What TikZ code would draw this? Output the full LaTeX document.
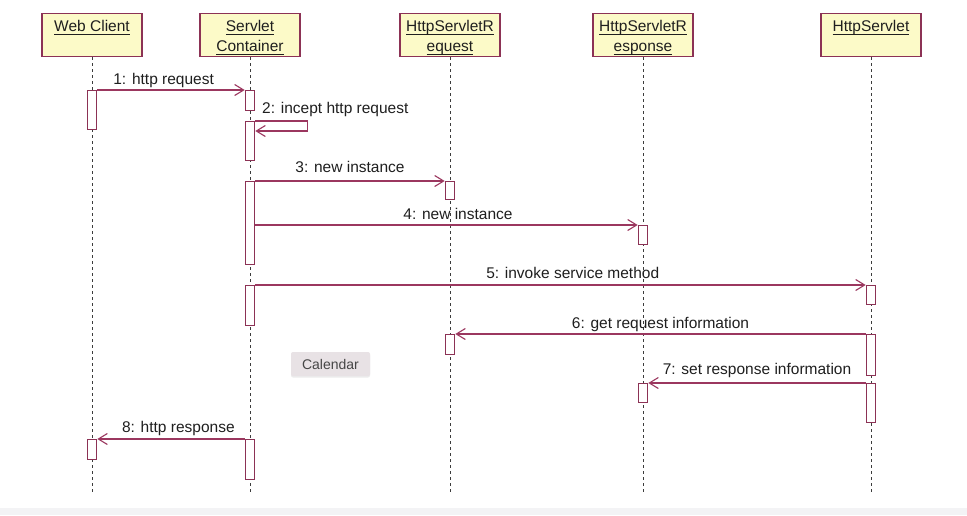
\documentclass[tikz,border=0pt]{standalone}
\usepackage{fontspec}
\setmainfont{Liberation Sans}
\usetikzlibrary{arrows.meta,shadows}
\definecolor{hdrfill}{RGB}{252,250,200}
\definecolor{maroon}{RGB}{140,50,85}
\definecolor{msgcol}{RGB}{155,55,95}
\definecolor{lifecol}{RGB}{60,60,60}
\definecolor{calfill}{RGB}{232,226,229}
\definecolor{caltext}{RGB}{70,70,70}
\definecolor{stripcol}{RGB}{243,243,245}
\newcommand\hul[1]{\setbox0\hbox{#1}\rlap{\rule[-2.6pt]{\wd0}{0.9pt}}\box0}
\tikzset{
  hdr/.style={draw=maroon, line width=1.3pt, fill=hdrfill, minimum width=100pt, minimum height=43pt, anchor=north, inner sep=0pt},
  hdrtxt/.style={anchor=north, align=center, inner sep=0pt, text=black!88, font=\fontsize{15.5}{20}\selectfont},
  life/.style={draw=lifecol, line width=1pt, dash pattern=on 3pt off 3pt},
  act/.style={draw=maroon, line width=1.1pt, fill=white, minimum width=9.5pt, anchor=north, inner sep=0pt},
  msg/.style={draw=msgcol, line width=1.1pt, -{Straight Barb[length=9pt,width=11pt,line width=1.1pt]}},
  mlab/.style={anchor=base, text=black!88, font=\fontsize{15.5}{18}\selectfont, inner sep=0pt},
}
\begin{document}
\begin{tikzpicture}[x=1pt,y=-1pt]
\useasboundingbox (0,0) rectangle (967,515);
\fill[white] (0,0) rectangle (967,515);
\fill[stripcol] (0,508) rectangle (967,515);

% header boxes
\node[hdr] (wc) at (92,13) {};
\node[hdr] (sc) at (250,13) {};
\node[hdr] (rq) at (450,13) {};
\node[hdr] (rs) at (643,13) {};
\node[hdr] (hs) at (871,13) {};
\node[hdrtxt] (wct) at (92,20.5) {\hul{Web Client}};
\node[hdrtxt] (sct) at (250,20.5) {\hul{Servlet}\\\hul{Container}};
\node[hdrtxt] (rqt) at (450,20.5) {\hul{HttpServletR}\\\hul{equest}};
\node[hdrtxt] (rst) at (643,20.5) {\hul{HttpServletR}\\\hul{esponse}};
\node[hdrtxt] (hst) at (871,20.5) {\hul{HttpServlet}};

% lifelines
\coordinate (wce) at (92,495);
\coordinate (sce) at (250,495);
\coordinate (rqe) at (450,495);
\coordinate (rse) at (643,495);
\coordinate (hse) at (871,495);
\draw[life] (wc.south) -- (wce);
\draw[life] (sc.south) -- (sce);
\draw[life] (rq.south) -- (rqe);
\draw[life] (rs.south) -- (rse);
\draw[life] (hs.south) -- (hse);

% activations
\node[act, minimum height=39pt] (wc1) at (92,90) {};
\node[act, minimum height=20pt] (wc2) at (92,439) {};
\node[act, minimum height=20pt] (sc1) at (250,90) {};
\node[act, minimum height=39pt] (sc2) at (250,121) {};
\node[act, minimum height=83pt] (sc3) at (250,181) {};
\node[act, minimum height=40pt] (sc4) at (250,285) {};
\node[act, minimum height=40pt] (sc5) at (250,439) {};
\node[act, minimum height=18pt] (rq1) at (450,181) {};
\node[act, minimum height=20pt] (rq2) at (450,334) {};
\node[act, minimum height=19pt] (rs1) at (643,225) {};
\node[act, minimum height=19pt] (rs2) at (643,383) {};
\node[act, minimum height=19pt] (hs1) at (871,285) {};
\node[act, minimum height=41pt] (hs2) at (871,334) {};
\node[act, minimum height=39pt] (hs3) at (871,383) {};

% messages
\draw[msg] (wc1.north east) -- node[mlab, pos=0.45, yshift=6pt] (m1) {1: http request} (sc1.north west);
\draw[msg] (sc2.north east) -- ++(52,0) |- ([yshift=-10pt]sc2.north east);
\node[mlab, anchor=base west] (m2) at (262,113) {2: incept http request};
\draw[msg] (sc3.north east) -- node[mlab, midway, yshift=9pt] (m3) {3: new instance} (rq1.north west);
\draw[msg] (sc3.east |- rs1.north west) -- node[mlab, pos=0.53, yshift=6pt] (m4) {4: new instance} (rs1.north west);
\draw[msg] (sc4.north east) -- node[mlab, pos=0.52, yshift=7pt] (m5) {5: invoke service method} (hs1.north west);
\draw[msg] (hs2.north west) -- node[mlab, midway, yshift=6pt] (m6) {6: get request information} (rq2.north east);
\draw[msg] (hs3.north west) -- node[mlab, pos=0.5, yshift=9pt] (m7) {7: set response information} (rs2.north east);
\draw[msg] (sc5.north west) -- node[mlab, pos=0.45, yshift=7pt] (m8) {8: http response} (wc2.north east);

% calendar tooltip
\node[fill=calfill, rounded corners=2pt, drop shadow={opacity=0.15, shadow xshift=0pt, shadow yshift=-1.5pt}, minimum width=79pt, minimum height=24pt, inner sep=0pt, text=caltext, font=\fontsize{14}{16}\selectfont] (cal) at (330.5,364) {Calendar};
\end{tikzpicture}
\end{document}
